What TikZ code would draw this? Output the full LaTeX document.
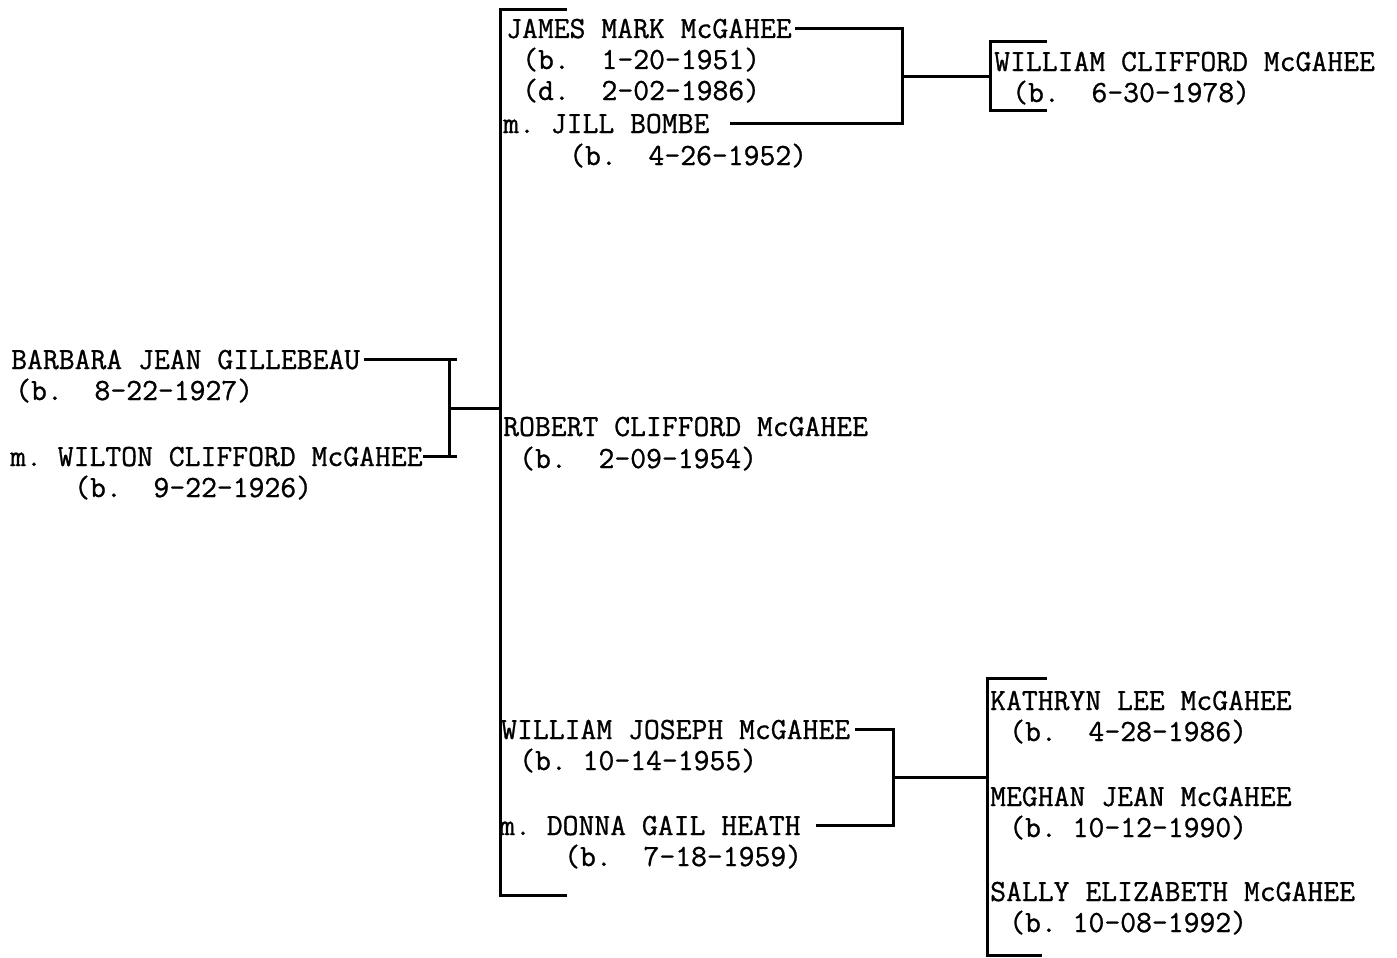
\documentclass[tikz,border=0pt]{standalone}
\usepackage{fontspec}
\newfontfamily\twfont{Latin Modern Mono}[FakeBold=0.9]
\usetikzlibrary{calc}
\begin{document}
\begin{tikzpicture}[x=1pt,y=-1pt,
  txt/.style={anchor=base west, inner sep=0pt, font=\twfont\fontsize{30.8}{36}\selectfont},
  ln/.style={line width=3pt, line cap=rect}]
\useasboundingbox (0,0) rectangle (1397,958);
% parents
\node[txt] (barbara) at (11,369) {BARBARA JEAN GILLEBEAU};
\node[txt] (bdate) at (15,400) {(b.~~8-22-1927)};
\node[txt] (wilton) at (10,466) {m.~WILTON CLIFFORD McGAHEE};
\node[txt] (wdate) at (74,497) {(b.~~9-22-1926)};
% James
\node[txt] (james) at (506,38) {JAMES MARK McGAHEE};
\node[txt] (jbirth) at (522,69) {(b.~~1-20-1951)};
\node[txt] (jdeath) at (522,100) {(d.~~2-02-1986)};
\node[txt] (jill) at (503,133) {m.~JILL BOMBE};
\node[txt] (jilldate) at (569,165) {(b.~~4-26-1952)};
\node[txt] (wcm) at (994,71) {WILLIAM CLIFFORD McGAHEE};
\node[txt] (wcmdate) at (1012,102) {(b.~~6-30-1978)};
% Robert
\node[txt] (robert) at (503,436) {ROBERT CLIFFORD McGAHEE};
\node[txt] (rdate) at (519,468) {(b.~~2-09-1954)};
% William Joseph
\node[txt] (wj) at (501,739) {WILLIAM JOSEPH McGAHEE};
\node[txt] (wjdate) at (519,770) {(b.~10-14-1955)};
\node[txt] (donna) at (499,835) {m.~DONNA GAIL HEATH};
\node[txt] (ddate) at (564,866) {(b.~~7-18-1959)};
\node[txt] (kathryn) at (990,710) {KATHRYN LEE McGAHEE};
\node[txt] (kdate) at (1009,741) {(b.~~4-28-1986)};
\node[txt] (meghan) at (990,806) {MEGHAN JEAN McGAHEE};
\node[txt] (mdate) at (1009,837) {(b.~10-12-1990)};
\node[txt] (sally) at (990,901) {SALLY ELIZABETH McGAHEE};
\node[txt] (sdate) at (1009,932) {(b.~10-08-1992)};
% coordinates
\coordinate (pv) at (449,0);
\coordinate (px) at (455,0);
\coordinate (bv) at (500,0);
\coordinate (bvt) at (500,10);
\coordinate (bvb) at (500,895);
\coordinate (jv) at (902,0);
\coordinate (wv) at (990,0);
\coordinate (wt) at (990,42);
\coordinate (wb) at (990,110);
\coordinate (kv) at (893,0);
\coordinate (cv) at (987,0);
\coordinate (ct) at (987,678);
\coordinate (cb) at (987,955);
% parents bracket
\draw[ln] ([xshift=5pt]barbara.east) -- (barbara.east -| px);
\draw[ln] ([xshift=2pt]wilton.east) -- (wilton.east -| px);
\draw[ln] (barbara.east -| pv) -- coordinate (pm) (wilton.east -| pv);
\draw[ln] (pm) -- (pm -| bv);
% children bracket
\draw[ln] ([xshift=65pt]bvt) -- (bvt) -- (bvb) -- ([xshift=65pt]bvb);
% James bracket
\draw[ln] ([xshift=5pt]james.east) -| (jill.east -| jv) -- ([xshift=22pt]jill.east);
\path (james.east -| jv) -- coordinate (jm) (jill.east -| jv);
\draw[ln] (jm) -- (jm -| wv);
\draw[ln] ([xshift=55pt]wt) -- (wt) -- (wb) -- ([xshift=55pt]wb);
% William Joseph bracket
\draw[ln] ([xshift=6pt]wj.east) -| (donna.east -| kv) -- ([xshift=17pt]donna.east);
\path (wj.east -| kv) -- coordinate (wm) (donna.east -| kv);
\draw[ln] (wm) -- (wm -| cv);
\draw[ln] ([xshift=58pt]ct) -- (ct) -- (cb) -- ([xshift=53pt]cb);
\end{tikzpicture}
\end{document}
